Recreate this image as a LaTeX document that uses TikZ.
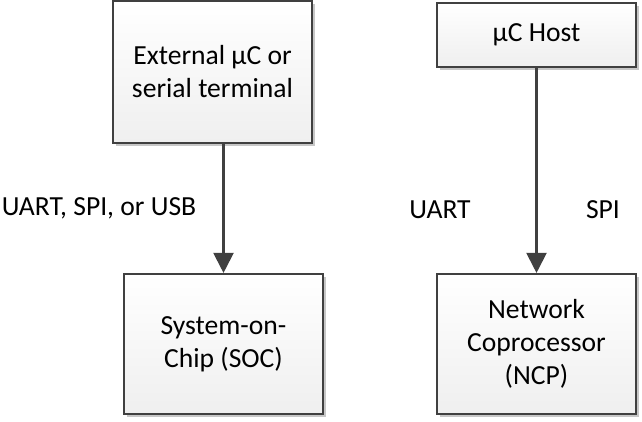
\documentclass[tikz,border=0pt]{standalone}
\usepackage{fontspec}
\setmainfont{Carlito}
\usetikzlibrary{positioning,arrows.meta,shadows}

\definecolor{boxline}{HTML}{404040}
\definecolor{boxfill}{HTML}{EFEFEF}

\begin{document}
\begin{tikzpicture}[
    x=0.75pt, y=-0.75pt,
    font=\fontsize{20.7}{24.75}\selectfont,
    blk/.style={draw=boxline, line width=1.6pt, align=center, inner sep=0pt,
                top color=white, bottom color=boxfill, minimum width=149pt,
                drop shadow={shadow xshift=2.2pt, shadow yshift=-2.2pt, fill=black!22, opacity=1}},
    lbl/.style={inner sep=0pt, text=black},
    arr/.style={-{Triangle[length=15pt, width=15pt]}, line width=1.6pt, draw=boxline, fill=boxline},
  ]
  \useasboundingbox (0,0) rectangle (642,421);

  % ===== boxes =====
  \node[blk, minimum height=106.5pt] (ext) at (212.5,72) {External µC or\\serial terminal};
  \node[blk, minimum height=105pt] (soc) at (223.5,344) {System-on-\\Chip (SOC)};
  \node[blk, minimum height=48pt] (host) at (536.5,35) {µC Host};
  \node[blk, minimum height=105pt] (ncp) at (536.5,344) {Network\\Coprocessor\\(NCP)};

  % ===== arrows =====
  \draw[arr] (soc.north |- ext.south) -- (soc.north);
  \draw[arr] (host) -- (ncp);

  % ===== labels =====
  \node[lbl] (busl) at (99,208) {UART, SPI, or USB};
  \node[lbl] (uart) at (440,210) {UART};
  \node[lbl] (spi) at (603,210) {SPI};

\end{tikzpicture}
\end{document}
